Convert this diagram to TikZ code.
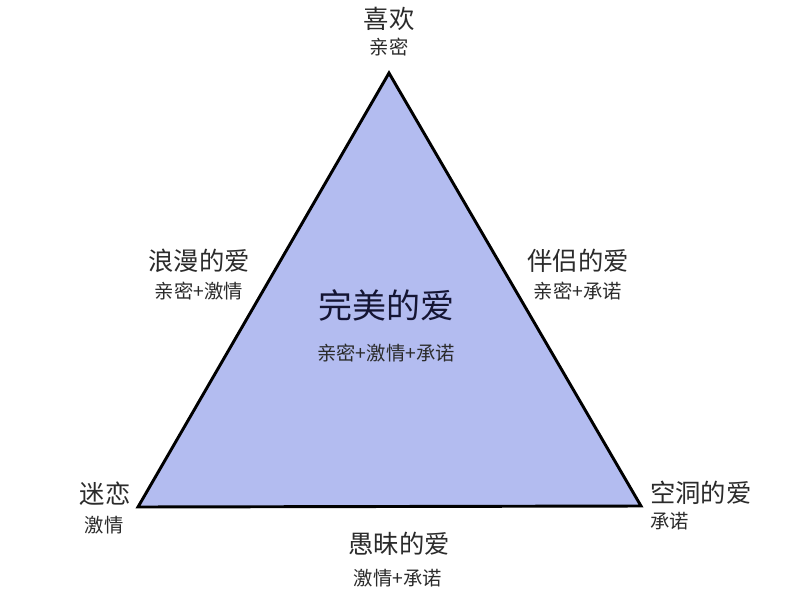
\documentclass[tikz,border=0pt]{standalone}
\usepackage{fontspec}
\setmainfont{Noto Sans CJK SC}
\definecolor{trifill}{HTML}{B3BCF0}
\definecolor{txt}{HTML}{2B2B2B}
\begin{document}
\begin{tikzpicture}[x=0.75pt,y=-0.75pt,
  big/.style={text=txt,inner sep=0pt,font=\fontsize{19}{21}\selectfont},
  small/.style={text=txt,inner sep=0pt,font=\fontsize{14.5}{16}\selectfont},
  huge/.style={text=txt!80!blue!60!black,inner sep=0pt,font=\fontsize{25.5}{27}\selectfont}]
\useasboundingbox[fill=white] (0,0) rectangle (800,600);
\coordinate (T) at (389,73);
\coordinate (L) at (138,507);
\coordinate (R) at (641,506);
\draw[fill=trifill,line width=2.2pt,line join=miter] (T) -- (L) -- (R) -- cycle;
\node[big] (xh) at (389,19) {喜欢};
\node[small] (xh2) at (389,47) {亲密};
\node[big] (lm) at (199,261) {浪漫的爱};
\node[small] (lm2) at (199,291) {亲密+激情};
\node[big] (bl) at (578,261) {伴侣的爱};
\node[small] (bl2) at (578,291) {亲密+承诺};
\node[huge] (wm) at (386,305) {完美的爱};
\node[small] (wm2) at (386,353) {亲密+激情+承诺};
\node[big] (ml) at (105,494) {迷恋};
\node[small] (ml2) at (104,525) {激情};
\node[big,anchor=west] (kd) at (650,493) {空洞的爱};
\node[small,anchor=west] (kd2) at (650,521) {承诺};
\node[big] (ym) at (399,544) {愚昧的爱};
\node[small] (ym2) at (398,578) {激情+承诺};
\end{tikzpicture}
\end{document}
